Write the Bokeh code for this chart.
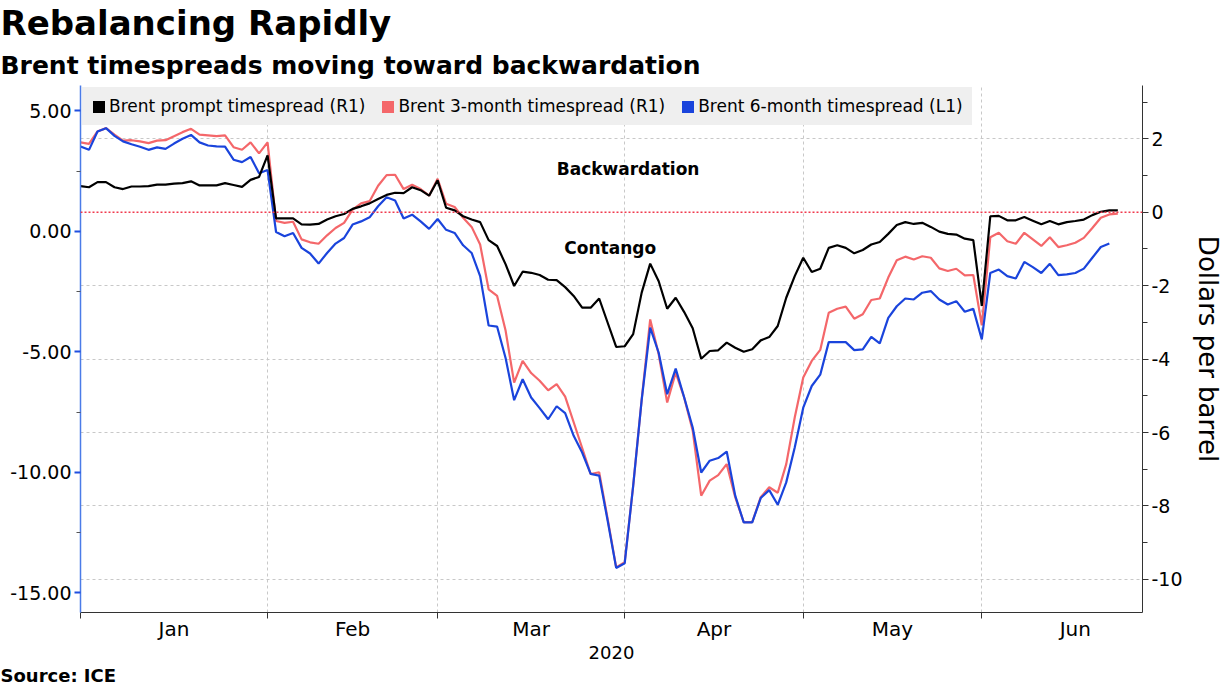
import pandas as pd
from bokeh.plotting import figure
from bokeh.models import (Range1d, LinearAxis, FixedTicker, Span, Label, Legend,
                          LegendItem, Title)
from bokeh.embed import file_html
from bokeh.resources import INLINE

# ---------------- data ----------------
dates = [d for d in pd.bdate_range("2020-01-02", "2020-06-23") if d != pd.Timestamp("2020-04-10")]

prompt = [
    0.71, 0.68, 0.82, 0.82, 0.68, 0.63, 0.70, 0.70, 0.71, 0.75,
    0.75, 0.78, 0.79, 0.84, 0.73, 0.73, 0.73, 0.79, 0.74, 0.69,
    0.88, 0.96, 1.55, -0.17, -0.17, -0.17, -0.33, -0.34, -0.32, -0.20,
    -0.11, -0.05, 0.09, 0.16, 0.24, 0.36, 0.47, 0.53, 0.52, 0.68,
    0.60, 0.45, 0.87, 0.12, 0.05, -0.11, -0.20, -0.27, -0.76, -0.92,
    -1.42, -2.01, -1.62, -1.65, -1.71, -1.84, -1.85, -2.04, -2.28, -2.60,
    -2.60, -2.35, -3.01, -3.67, -3.65, -3.32, -2.19, -1.40, -1.88, -2.63,
    -2.33, -2.72, -3.16, -3.99, -3.78, -3.76, -3.55, -3.69, -3.80, -3.73,
    -3.49, -3.40, -3.10, -2.33, -1.74, -1.24, -1.63, -1.54, -0.97, -0.90,
    -0.97, -1.12, -1.03, -0.88, -0.81, -0.59, -0.35, -0.27, -0.32, -0.29,
    -0.40, -0.53, -0.59, -0.61, -0.72, -0.76, -2.55, -0.11, -0.10, -0.22,
    -0.22, -0.13, -0.23, -0.33, -0.24, -0.33, -0.27, -0.24, -0.20, -0.08,
    0.01, 0.05, 0.05]

three_month = [
    1.90, 1.86, 2.20, 2.29, 2.11, 1.95, 1.96, 1.93, 1.88, 1.95,
    1.96, 2.07, 2.18, 2.27, 2.11, 2.09, 2.07, 2.09, 1.77, 1.70,
    1.90, 1.60, 1.90, -0.24, -0.29, -0.26, -0.74, -0.82, -0.86, -0.63,
    -0.43, -0.29, 0.07, 0.24, 0.30, 0.72, 1.01, 1.02, 0.63, 0.75,
    0.63, 0.45, 0.91, 0.23, 0.14, -0.15, -0.40, -0.88, -2.10, -2.28,
    -3.23, -4.64, -4.05, -4.38, -4.59, -4.85, -4.68, -5.02, -5.72, -6.42,
    -7.13, -7.08, -8.35, -9.67, -9.53, -7.45, -5.10, -2.92, -3.87, -5.18,
    -4.37, -5.05, -5.95, -7.72, -7.31, -7.16, -6.86, -7.76, -8.44, -8.44,
    -7.76, -7.49, -7.64, -6.86, -5.59, -4.50, -4.05, -3.75, -2.74, -2.63,
    -2.57, -2.90, -2.78, -2.39, -2.35, -1.78, -1.31, -1.21, -1.29, -1.20,
    -1.24, -1.53, -1.60, -1.54, -1.72, -1.71, -3.08, -0.68, -0.56, -0.79,
    -0.86, -0.56, -0.74, -0.92, -0.68, -0.95, -0.90, -0.83, -0.70, -0.43,
    -0.15, -0.06, -0.04]

six_month = [
    3.52, 3.38, 4.14, 4.28, 3.96, 3.73, 3.61, 3.51, 3.38, 3.48,
    3.42, 3.64, 3.84, 4.00, 3.69, 3.56, 3.52, 3.51, 2.97, 2.87,
    3.08, 2.41, 2.54, -0.03, -0.21, -0.07, -0.69, -0.92, -1.34, -0.90,
    -0.51, -0.28, 0.28, 0.41, 0.58, 1.04, 1.41, 1.28, 0.53, 0.69,
    0.41, 0.10, 0.51, 0.06, -0.07, -0.58, -0.90, -1.86, -3.91, -3.96,
    -5.27, -7.01, -6.14, -6.90, -7.34, -7.80, -7.26, -7.55, -8.49, -9.18,
    -10.07, -10.14, -12.01, -13.97, -13.78, -10.56, -7.00, -4.00, -5.04, -6.76,
    -5.70, -6.90, -8.14, -10.01, -9.52, -9.41, -9.14, -10.97, -12.08, -12.08,
    -11.07, -10.74, -11.35, -10.42, -8.97, -7.32, -6.42, -5.95, -4.60, -4.60,
    -4.60, -4.93, -4.90, -4.38, -4.65, -3.59, -3.11, -2.79, -2.83, -2.55,
    -2.48, -2.83, -3.04, -2.90, -3.34, -3.22, -4.49, -1.73, -1.59, -1.86,
    -1.96, -1.27, -1.49, -1.73, -1.35, -1.82, -1.79, -1.73, -1.55, -1.10,
    -0.65, -0.51]

series_labels = ["Brent prompt timespread (R1)", "Brent 3-month timespread (R1)",
                 "Brent 6-month timespread (L1)"]
month_names = ["Jan", "Feb", "Mar", "Apr", "May", "Jun"]
year_label = "2020"
right_ticks = [2, 0, -2, -4, -6, -8, -10]
left_ticks = [5, 0, -5, -10, -15]

# ---------------- derived positions ----------------
x = list(range(len(dates)))
boundaries = [i for i, d in enumerate(dates) if i == 0 or d.month != dates[i - 1].month]
june_len = len(pd.bdate_range("2020-06-01", "2020-06-30"))
ends = boundaries[1:] + [boundaries[-1] + june_len]
label_pos = [(a + b) / 2 for a, b in zip(boundaries, ends)]
label_pos = [int(v) if v == int(v) else v for v in label_pos]

FONT = "DejaVu Sans"
BLACK = "#000000"
RED = "#f4676a"
BLUE = "#1a44dc"
LEGEND_BG = "#efefef"

p = figure(width=1225, height=689, output_backend="svg", toolbar_location=None,
           x_range=Range1d(0, 124.9), y_range=Range1d(-10.90, 3.45),
           y_axis_location="right",
           min_border_left=80, min_border_right=81, min_border_top=84, min_border_bottom=77)
p.extra_y_ranges = {"L": Range1d(-15.82, 6.05)}
p.outline_line_color = None
p.background_fill_color = "white"
p.border_fill_color = "white"

# ---------------- right axis ----------------
ra = p.right[0]
ra.ticker = FixedTicker(ticks=right_ticks, minor_ticks=[3, 1, -1, -3, -5, -7, -9])
ra.major_label_overrides = {t: str(t) for t in right_ticks}
ra.axis_line_color = "#333333"
ra.major_tick_line_color = "#333333"
ra.minor_tick_line_color = "#333333"
ra.major_tick_out = 6
ra.major_tick_in = 0
ra.minor_tick_out = 5
ra.minor_tick_in = 0
ra.major_label_text_font = FONT
ra.major_label_text_font_size = "19px"
ra.major_label_text_color = "black"
ra.major_label_standoff = 3
ra.axis_label = "Dollars per barrel"
ra.axis_label_text_font = FONT
ra.axis_label_text_font_size = "26px"
ra.axis_label_text_font_style = "normal"
ra.axis_label_text_color = "black"
ra.axis_label_standoff = 7

# ---------------- left axis ----------------
la = LinearAxis(y_range_name="L",
                ticker=FixedTicker(ticks=left_ticks, minor_ticks=[2.5, -2.5, -7.5, -12.5]))
la.major_label_overrides = {t: f"{t:.2f}" for t in left_ticks}
la.axis_line_color = "#4a7be8"
la.axis_line_width = 1.5
la.major_tick_line_color = "#1f4fe0"
la.major_tick_line_width = 2
la.major_tick_out = 6
la.major_tick_in = 0
la.minor_tick_line_color = "#555555"
la.minor_tick_out = 4
la.minor_tick_in = 0
la.major_label_text_font = FONT
la.major_label_text_font_size = "19px"
la.major_label_text_color = "black"
la.major_label_standoff = 3
p.add_layout(la, "left")

# ---------------- x axis ----------------
xa = p.xaxis[0]
xa.ticker = FixedTicker(ticks=label_pos, minor_ticks=boundaries)
xa.major_label_overrides = {pos: name for pos, name in zip(label_pos, month_names)}
xa.axis_line_color = "#333333"
xa.major_tick_out = 0
xa.major_tick_in = 0
xa.minor_tick_out = 6
xa.minor_tick_in = 0
xa.minor_tick_line_color = "#333333"
xa.major_label_text_font = FONT
xa.major_label_text_font_size = "20px"
xa.major_label_text_color = "black"
xa.major_label_standoff = -2
xa.axis_label = year_label
xa.axis_label_text_font = FONT
xa.axis_label_text_font_size = "18px"
xa.axis_label_text_font_style = "normal"
xa.axis_label_text_color = "black"
xa.axis_label_standoff = 2

# ---------------- grids ----------------
p.xgrid.ticker = FixedTicker(ticks=boundaries[1:])
p.xgrid.grid_line_color = "#c8c8c8"
p.xgrid.grid_line_dash = "3 3"
p.xgrid.grid_line_width = 1
p.ygrid.ticker = FixedTicker(ticks=[t for t in right_ticks if t != 0])
p.ygrid.grid_line_color = "#c8c8c8"
p.ygrid.grid_line_dash = "3 3"
p.ygrid.grid_line_width = 1
p.add_layout(Span(location=0, dimension="width", line_color="#f03a4e",
                  line_dash="2 2", line_width=1.5))

# ---------------- lines ----------------
p.line(x, three_month, line_color=RED, line_width=2.2)
p.line(x[:len(six_month)], six_month, line_color=BLUE, line_width=2.2, y_range_name="L")
p.line(x, prompt, line_color=BLACK, line_width=2.2)

# legend swatches: hidden bar renderers of the same series (only their legend squares show)
sw_black = p.vbar(x=x, top=prompt, width=0.5, fill_color=BLACK, line_alpha=0, visible=False)
sw_red = p.vbar(x=x, top=three_month, width=0.5, fill_color=RED, line_alpha=0, visible=False)
sw_blue = p.vbar(x=x[:len(six_month)], top=six_month, width=0.5, fill_color=BLUE,
                 line_alpha=0, visible=False, y_range_name="L")

# ---------------- annotations ----------------
p.add_layout(Label(x=64.4, y=1.17, text="Backwardation", text_align="center",
                   text_baseline="middle", text_font=FONT, text_font_style="bold",
                   text_font_size="17px", text_color="black"))
p.add_layout(Label(x=62.3, y=-0.98, text="Contango", text_align="center",
                   text_baseline="middle", text_font=FONT, text_font_style="bold",
                   text_font_size="17px", text_color="black"))

# ---------------- legend ----------------
legend = Legend(items=[LegendItem(label=lab, renderers=[r])
                       for lab, r in zip(series_labels, (sw_black, sw_red, sw_blue))],
                location="top_left", orientation="horizontal", margin=2, padding=8,
                spacing=15, label_standoff=3, glyph_width=15, glyph_height=15,
                label_text_font=FONT, label_text_font_size="17px", label_height=20,
                label_text_color="black",
                background_fill_color=LEGEND_BG, background_fill_alpha=1.0,
                border_line_color=LEGEND_BG, border_line_width=1)
p.add_layout(legend)

# ---------------- titles ----------------
p.add_layout(Title(text="Brent timespreads moving toward backwardation", text_font=FONT,
                   text_font_size="25px", text_font_style="bold", align="left",
                   offset=-80, standoff=12, text_color="black"), "above")
p.add_layout(Title(text="Rebalancing Rapidly", text_font=FONT, text_font_size="34px",
                   text_font_style="bold", align="left", offset=-80, standoff=0,
                   text_color="black"), "above")
p.add_layout(Title(text="Source: ICE", text_font=FONT, text_font_size="18px",
                   text_font_style="bold", align="left", offset=-80, standoff=2,
                   text_color="black"), "below")

open("out.html", "w").write(file_html(p, INLINE))
